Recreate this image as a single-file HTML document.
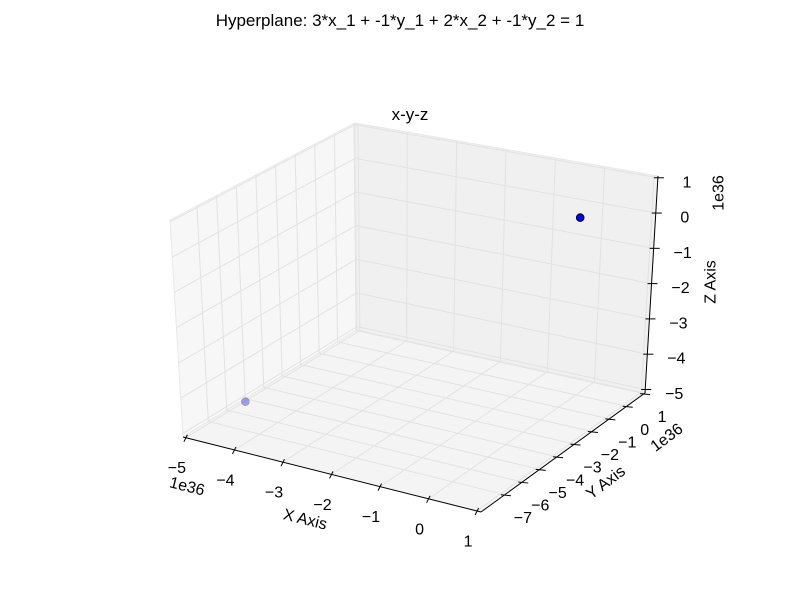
<!DOCTYPE html>
<html><head><meta charset="utf-8"><style>
body{margin:0;background:#fff}
svg text{font-family:"Liberation Sans",sans-serif;fill:#000}
</style></head><body>
<svg id="c" width="800" height="600" viewBox="0 0 800 600">
<text x="400" y="26" text-anchor="middle" font-size="17">Hyperplane: 3*x_1 + -1*y_1 + 2*x_2 + -1*y_2 = 1</text>
<text x="410" y="120" text-anchor="middle" font-size="17">x-y-z</text>
<g id="g"></g>
</svg>
<script>
const xTicks=[-5,-4,-3,-2,-1,0,1];
const yTicks=[-7,-6,-5,-4,-3,-2,-1,0,1];
const zTicks=[-5,-4,-3,-2,-1,0,1];
const xTickLabels=["\u22125","\u22124","\u22123","\u22122","\u22121","0","1"];
const yTickLabels=["\u22127","\u22126","\u22125","\u22124","\u22123","\u22122","\u22121","0","1"];
const zTickLabels=["\u22125","\u22124","\u22123","\u22122","\u22121","0","1"];
const ptX=[-4.9,-0.43];
const ptY=[-5.4,1];
const ptZ=[-5,-0.5];
const ptAlpha=[0.35,1];

const XR=[-5.06,1.08],YR=[-8.37,1.05],ZR=[-5.1,1.05];
const C={p000:[183,437],p100:[481,512],p110:[645,393],p010:[357,330],
p001:[170,220],p101:[481,282],p111:[658,176],p011:[355,123]};
function P(x,y,z){
 const u=(x-XR[0])/(XR[1]-XR[0]),v=(y-YR[0])/(YR[1]-YR[0]),w=(z-ZR[0])/(ZR[1]-ZR[0]);
 const r=[0,0];
 for(let i=0;i<2;i++){
  const a=C.p000[i]*(1-u)+C.p100[i]*u, b=C.p010[i]*(1-u)+C.p110[i]*u;
  const c=C.p001[i]*(1-u)+C.p101[i]*u, d=C.p011[i]*(1-u)+C.p111[i]*u;
  const lo=a*(1-v)+b*v, hi=c*(1-v)+d*v;
  r[i]=lo*(1-w)+hi*w;
 }
 return r;
}
const g=document.getElementById('g');
const NS='http://www.w3.org/2000/svg';
function mk(t,attrs){const e=document.createElementNS(NS,t);for(const k in attrs)e.setAttribute(k,attrs[k]);g.appendChild(e);return e;}
function poly(pts,fill,name){
 const e=mk('polygon',{points:pts.map(p=>p.join(',')).join(' '),fill:fill,stroke:'#e8e8e8','stroke-width':1});
 
 
}
function line(a,b,col,w,name){
 const e=mk('line',{x1:a[0],y1:a[1],x2:b[0],y2:b[1],stroke:col,'stroke-width':w});
 
 
 return e;
}
function text(p,s,size,rot,name,anchor){
 const e=mk('text',{x:p[0],y:p[1],'font-size':size,'text-anchor':anchor||'middle','dominant-baseline':'central',transform:'rotate('+rot+' '+p[0]+' '+p[1]+')'});
 e.textContent=s;
 
 
}
const [x0,x1]=XR,[y0,y1]=YR,[z0,z1]=ZR;
poly([P(x0,y0,z0),P(x0,y1,z0),P(x0,y1,z1),P(x0,y0,z1)],'#f7f7f7','left-pane');
poly([P(x0,y1,z0),P(x1,y1,z0),P(x1,y1,z1),P(x0,y1,z1)],'#f0f0f0','back-pane');
poly([P(x0,y0,z0),P(x1,y0,z0),P(x1,y1,z0),P(x0,y1,z0)],'#f4f4f4','floor-pane');
const gc='#e2e2e2';
xTicks.forEach(t=>{line(P(t,y0,z0),P(t,y1,z0),gc,1,'floor-grid-x');line(P(t,y1,z0),P(t,y1,z1),gc,1,'back-grid-x');});
yTicks.forEach(t=>{line(P(x0,t,z0),P(x1,t,z0),gc,1,'floor-grid-y');line(P(x0,t,z0),P(x0,t,z1),gc,1,'left-grid-y');});
zTicks.forEach(t=>{line(P(x0,y0,t),P(x0,y1,t),gc,1,'left-grid-z');line(P(x0,y1,t),P(x1,y1,t),gc,1,'back-grid-z');});
line(P(x0,y0,z0),P(x1,y0,z0),'#000',1,'x-axis-line');
line(P(x1,y0,z0),P(x1,y1,z0),'#000',1,'y-axis-line');
line(P(x1,y1,z0),P(x1,y1,z1),'#000',1,'z-axis-line');
xTicks.forEach((t,i)=>{const p=P(t,y0,z0);line([p[0]+1.5,p[1]-3],[p[0]-2,p[1]+4],'#000',1,'x-tick');text([p[0]-9,p[1]+31],xTickLabels[i],16,0,'x-tick-label');});
yTicks.forEach((t,i)=>{const p=P(x1,t,z0);line([p[0]-4,p[1]],[p[0]+6,p[1]+1],'#000',1,'y-tick');text([p[0]+18,p[1]+24],yTickLabels[i],16,0,'y-tick-label');});
zTicks.forEach((t,i)=>{const p=P(x1,y1,t);line([p[0]-4,p[1]],[p[0]+6,p[1]],'#000',1,'z-tick');text([p[0]+29,p[1]+5],zTickLabels[i],16,0,'z-tick-label');});
text([305,520],'X Axis',16,14,'x-axis-title');
text([606,483],'Y Axis',16,-37,'y-axis-title');
text([711,282],'Z Axis',16,-90,'z-axis-title');
text([187,487],'1e36',16,14,'x-offset-label');
text([667,438],'1e36',16,-37,'y-offset-label');
text([719,193],'1e36',16,-90,'z-offset-label');
ptX.forEach((x,i)=>{const p=P(x,ptY[i],ptZ[i]);
 const e=mk('circle',{cx:p[0],cy:p[1],r:3.8,fill:'#0000ff',stroke:'#000','stroke-width':1,opacity:ptAlpha[i]});
 
 
});
</script>
</body></html>
